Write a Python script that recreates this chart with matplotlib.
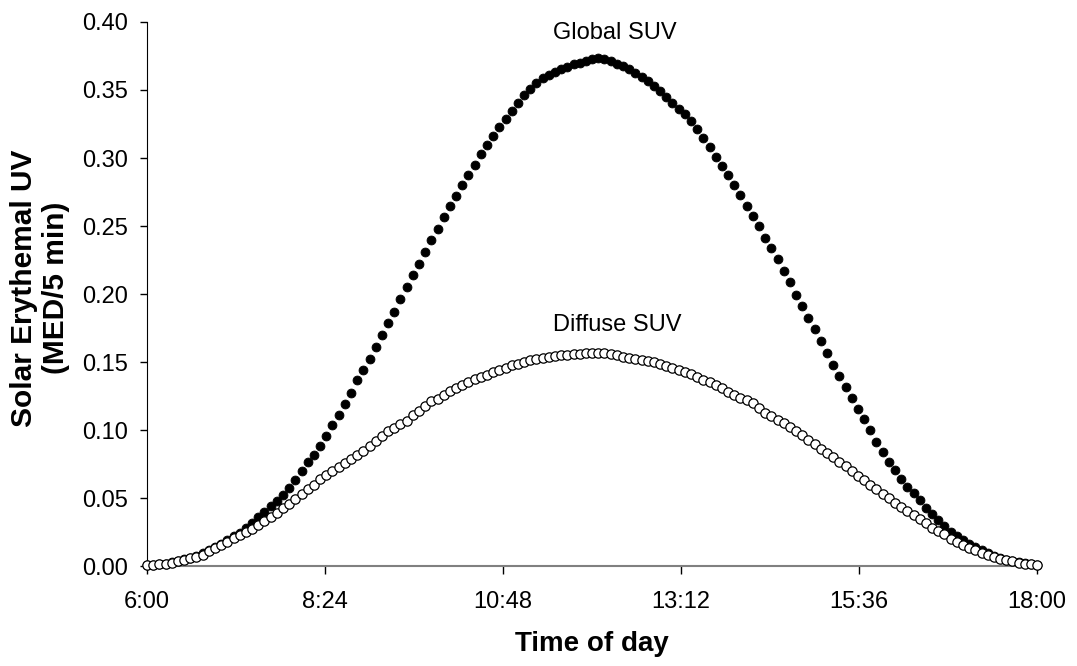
import numpy as np
import matplotlib
matplotlib.use("Agg")
import matplotlib.pyplot as plt

plt.rcParams['font.family'] = ['Liberation Sans', 'DejaVu Sans']

# 5-minute readings from 6:00 to 18:00 (minutes after midnight)
minutos = np.arange(360, 1081, 5)

# Global SUV (MED/5 min)
global_suv = [
    0.0008, 0.0009, 0.0013, 0.0019, 0.0027, 0.0037, 0.0049, 0.0061, 0.0076, 0.0093,
    0.0120, 0.0142, 0.0166, 0.0193, 0.0220, 0.0245, 0.0283, 0.0320, 0.0362, 0.0398,
    0.0440, 0.0478, 0.0525, 0.0572, 0.0630, 0.0700, 0.0762, 0.0820, 0.0885, 0.0960,
    0.1040, 0.1110, 0.1190, 0.1270, 0.1365, 0.1440, 0.1520, 0.1610, 0.1700, 0.1790,
    0.1870, 0.1960, 0.2050, 0.2140, 0.2220, 0.2310, 0.2395, 0.2478, 0.2568, 0.2648,
    0.2722, 0.2800, 0.2875, 0.2950, 0.3027, 0.3096, 0.3160, 0.3225, 0.3287, 0.3348,
    0.3407, 0.3463, 0.3510, 0.3554, 0.3586, 0.3612, 0.3630, 0.3652, 0.3672, 0.3690,
    0.3702, 0.3712, 0.3725, 0.3733, 0.3726, 0.3712, 0.3690, 0.3675, 0.3652, 0.3625,
    0.3595, 0.3568, 0.3530, 0.3495, 0.3450, 0.3405, 0.3360, 0.3320, 0.3270, 0.3215,
    0.3145, 0.3080, 0.3010, 0.2940, 0.2875, 0.2800, 0.2725, 0.2650, 0.2572, 0.2500,
    0.2415, 0.2335, 0.2255, 0.2170, 0.2085, 0.1995, 0.1910, 0.1825, 0.1740, 0.1655,
    0.1565, 0.1480, 0.1395, 0.1315, 0.1235, 0.1152, 0.1078, 0.1000, 0.0915, 0.0840,
    0.0768, 0.0705, 0.0640, 0.0585, 0.0534, 0.0485, 0.0430, 0.0385, 0.0340, 0.0294,
    0.0250, 0.0218, 0.0192, 0.0165, 0.0140, 0.0118, 0.0096, 0.0077, 0.0061, 0.0048,
    0.0037, 0.0028, 0.0021, 0.0015, 0.0011,
]

# Diffuse SUV (MED/5 min)
difusa_suv = [
    0.0007, 0.0008, 0.0012, 0.0018, 0.0025, 0.0035, 0.0046, 0.0057, 0.0070, 0.0085,
    0.0112, 0.0132, 0.0154, 0.0178, 0.0204, 0.0228, 0.0252, 0.0272, 0.0300, 0.0332,
    0.0362, 0.0393, 0.0424, 0.0460, 0.0494, 0.0527, 0.0568, 0.0596, 0.0638, 0.0669,
    0.0698, 0.0727, 0.0759, 0.0790, 0.0816, 0.0847, 0.0880, 0.0918, 0.0958, 0.0992,
    0.1015, 0.1045, 0.1070, 0.1110, 0.1140, 0.1178, 0.1212, 0.1232, 0.1258, 0.1285,
    0.1308, 0.1334, 0.1352, 0.1372, 0.1390, 0.1408, 0.1428, 0.1444, 0.1459, 0.1475,
    0.1488, 0.1501, 0.1514, 0.1525, 0.1533, 0.1540, 0.1546, 0.1550, 0.1555, 0.1559,
    0.1562, 0.1564, 0.1565, 0.1565, 0.1563, 0.1556, 0.1549, 0.1540, 0.1532, 0.1525,
    0.1517, 0.1508, 0.1498, 0.1485, 0.1468, 0.1455, 0.1440, 0.1427, 0.1410, 0.1388,
    0.1370, 0.1352, 0.1333, 0.1310, 0.1282, 0.1255, 0.1235, 0.1218, 0.1198, 0.1162,
    0.1126, 0.1100, 0.1075, 0.1050, 0.1025, 0.0995, 0.0967, 0.0930, 0.0900, 0.0862,
    0.0830, 0.0805, 0.0766, 0.0735, 0.0700, 0.0665, 0.0630, 0.0598, 0.0565, 0.0528,
    0.0498, 0.0467, 0.0436, 0.0406, 0.0375, 0.0345, 0.0314, 0.0283, 0.0257, 0.0233,
    0.0200, 0.0180, 0.0157, 0.0135, 0.0115, 0.0098, 0.0083, 0.0068, 0.0055, 0.0044,
    0.0034, 0.0026, 0.0019, 0.0013, 0.0010,
]

etiquetas_x = ["6:00", "8:24", "10:48", "13:12", "15:36", "18:00"]
posiciones_x = [360, 504, 648, 792, 936, 1080]
ticks_y = [0.00, 0.05, 0.10, 0.15, 0.20, 0.25, 0.30, 0.35, 0.40]

fig = plt.figure(figsize=(10.77, 6.66), dpi=100)
ax = fig.add_axes([0.1365, 0.150, 0.8265, 0.817])

ax.plot(minutos, global_suv, linestyle='none', marker='o', markersize=6.4,
        markerfacecolor='black', markeredgecolor='black', markeredgewidth=0.6, zorder=3)
ax.plot(minutos, difusa_suv, linestyle='none', marker='o', markersize=6.7,
        markerfacecolor='white', markeredgecolor='black', markeredgewidth=0.9, zorder=4)

ax.text(738, 0.392, "Global SUV", fontsize=17, ha='center', va='center')
ax.text(740, 0.177, "Diffuse SUV", fontsize=17, ha='center', va='center')

ax.set_xlim(360, 1080)
ax.set_ylim(0, 0.40)
ax.set_xticks(posiciones_x)
ax.set_xticklabels(etiquetas_x)
ax.set_yticks(ticks_y)
ax.set_yticklabels([f"{v:.2f}" for v in ticks_y])
ax.tick_params(direction='out', width=1, labelsize=17, colors='black')
ax.tick_params(axis='x', length=6, pad=12)
ax.tick_params(axis='y', length=5, pad=9)

ax.spines['top'].set_visible(False)
ax.spines['right'].set_visible(False)
ax.spines['left'].set_color('black')
ax.spines['bottom'].set_color('#808080')
ax.spines['bottom'].set_linewidth(1.5)
for linea in ax.lines:
    linea.set_clip_on(False)

ax.set_xlabel("Time of day", fontsize=20, fontweight='bold', labelpad=13)
fig.text(40 / 1077, 1 - 288 / 666, "Solar Erythemal UV\n(MED/5 min)", fontsize=21.5,
         fontweight='bold', rotation=90, ha='center', va='center',
         multialignment='center', linespacing=1.15)

fig.savefig("out.png", dpi=100)
